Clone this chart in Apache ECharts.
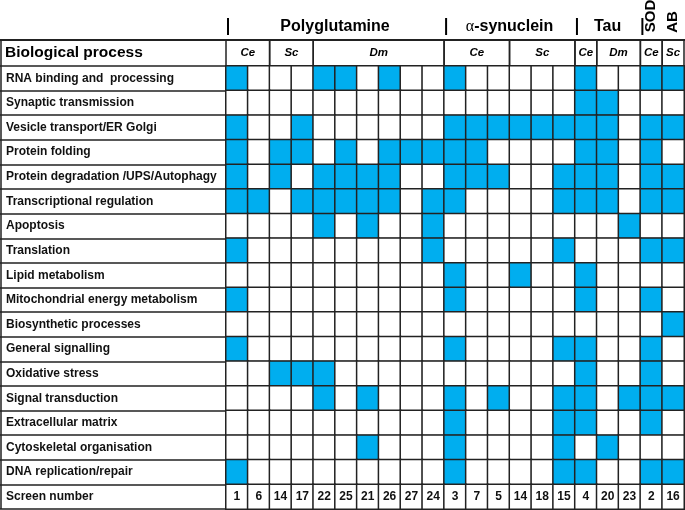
<!DOCTYPE html>
<html>
<head>
<meta charset="utf-8">
<script src="https://cdn.jsdelivr.net/npm/echarts@6/dist/echarts.min.js"></script>
<style>
html,body{margin:0;padding:0;background:#fff;}
#c{width:685px;height:510px;}
</style>
</head>
<body>
<div id="c"></div>
<script>
// ---- data ----
const screens = ['1','6','14','17','22','25','21','26','27','24','3','7','5','14','18','15','4','20','23','2','16'];
const processes = [
  'RNA binding and  processing',
  'Synaptic transmission',
  'Vesicle transport/ER Golgi',
  'Protein folding',
  'Protein degradation /UPS/Autophagy',
  'Transcriptional regulation',
  'Apoptosis',
  'Translation',
  'Lipid metabolism',
  'Mitochondrial energy metabolism',
  'Biosynthetic processes',
  'General signalling',
  'Oxidative stress',
  'Signal transduction',
  'Extracellular matrix',
  'Cytoskeletal organisation',
  'DNA replication/repair'
];
// column indices (0-based, into screens) that are marked for each process
const hits = [
  [0,4,5,7,10,16,19,20],
  [16,17],
  [0,3,10,11,12,13,14,15,16,17,19,20],
  [0,2,3,5,7,8,9,10,11,16,17,19],
  [0,2,4,5,6,7,10,11,12,15,16,17,19,20],
  [0,1,3,4,5,6,7,9,10,15,16,17,19,20],
  [4,6,9,18],
  [0,9,15,19,20],
  [10,13,16],
  [0,10,16,19],
  [20],
  [0,10,15,16,19],
  [2,3,4,16,19],
  [4,6,10,12,15,16,18,19,20],
  [10,15,16,19],
  [6,10,15,17],
  [0,10,15,16,19,20]
];
const groupNames = ['Polyglutamine','α-synuclein','Tau','SOD','AB'];
const groupFrom  = [0,10,16,19,20];
const groupTo    = [9,15,18,19,20];
const subNames = ['Ce','Sc','Dm','Ce','Sc','Ce','Dm','Ce','Sc'];
const subFrom  = [0,2,4,10,13,16,17,19,20];
const subTo    = [1,3,9,12,15,16,18,19,20];
const headerLabel = 'Biological process';
const screenLabel = 'Screen number';

// ---- build ----
const FONT = "'Liberation Sans', Arial, Helvetica, sans-serif";
const LINE = '#222';
const BLUE = '#00AEEF';
const yCats = processes.concat([screenLabel]);
const SCREEN_ROW = processes.length;
const data = [];
processes.forEach((p, r) => {
  for (let c = 0; c < screens.length; c++) {
    data.push([c, r, hits[r].indexOf(c) >= 0 ? 1 : 0]);
  }
});
for (let c = 0; c < screens.length; c++) data.push([c, SCREEN_ROW, 0]);

const chart = echarts.init(document.getElementById('c'), null, {renderer: 'canvas'});
const option = {
  animation: false,
  backgroundColor: '#fff',
  grid: {left: 226, right: 1, top: 66, bottom: 1},
  xAxis: {
    type: 'category',
    data: screens.map((s, i) => 'c' + i),
    show: false
  },
  yAxis: {
    type: 'category',
    data: yCats,
    inverse: true,
    axisLine: {show: true, lineStyle: {color: LINE, width: 1.5}},
    axisTick: {show: true, length: 226, lineStyle: {color: LINE, width: 1.5}},
    splitLine: {show: false},
    axisLabel: {
      align: 'left', margin: 220, color: '#111', fontWeight: 'bold',
      fontSize: 12, fontFamily: FONT
    }
  },
  visualMap: {
    type: 'piecewise', show: false, dimension: 2,
    pieces: [{value: 0, color: '#ffffff'}, {value: 1, color: BLUE}]
  },
  series: [{
    type: 'heatmap',
    data: data,
    itemStyle: {borderColor: LINE, borderWidth: 1.5},
    emphasis: {disabled: true},
    label: {
      show: true,
      color: '#111', fontWeight: 'bold', fontSize: 12, fontFamily: FONT,
      formatter: p => p.value[1] === SCREEN_ROW ? screens[p.value[0]] : ''
    }
  }]
};
chart.setOption(option);

// ---- header (positions from the chart's own axes) ----
const cx = i => chart.convertToPixel({xAxisIndex: 0}, i);
const cy = j => chart.convertToPixel({yAxisIndex: 0}, j);
const w = cx(1) - cx(0);
const h = cy(1) - cy(0);
const bL = i => cx(i) - w / 2;
const bR = i => cx(i) + w / 2;
const gridTop = cy(0) - h / 2;
const gridBottom = cy(SCREEN_ROW) + h / 2;
const headTop = gridTop - 26;
const g = [];
// top rule
g.push({type: 'line', shape: {x1: 0, y1: headTop, x2: 685, y2: headTop}, style: {stroke: LINE, lineWidth: 2}});
// left border
g.push({type: 'line', shape: {x1: 1, y1: headTop, x2: 1, y2: gridBottom}, style: {stroke: LINE, lineWidth: 1.5}});
// header row label
g.push({type: 'text', x: 5, y: headTop + 13, style: {text: headerLabel, font: 'bold 15.5px ' + FONT, fill: '#000', textVerticalAlign: 'middle', textAlign: 'left'}});
// subgroup separators and labels
subNames.forEach((n, k) => {
  const x0 = bL(subFrom[k]), x1 = bR(subTo[k]);
  g.push({type: 'line', shape: {x1: x0, y1: headTop, x2: x0, y2: gridTop}, style: {stroke: LINE, lineWidth: 1.5}});
  g.push({type: 'line', shape: {x1: x1, y1: headTop, x2: x1, y2: gridTop}, style: {stroke: LINE, lineWidth: 1.5}});
  g.push({type: 'text', x: (x0 + x1) / 2, y: headTop + 13, style: {text: n, font: 'italic bold 11.5px ' + FONT, fill: '#000', textAlign: 'center', textVerticalAlign: 'middle'}});
});
// group labels
groupNames.forEach((n, k) => {
  const x0 = bL(groupFrom[k]), x1 = bR(groupTo[k]);
  const mid = (x0 + x1) / 2;
  if (k < 4) {
    g.push({type: 'line', shape: {x1: x0 + 2, y1: headTop - 22, x2: x0 + 2, y2: headTop - 5}, style: {stroke: '#000', lineWidth: 2}});
  }
  if (n === 'SOD' || n === 'AB') {
    const yc = n === 'SOD' ? headTop - 24 : headTop - 18;
    g.push({type: 'text', x: mid, y: yc, rotation: Math.PI / 2, style: {text: n, font: 'bold 15px ' + FONT, fill: '#000', textAlign: 'center', textVerticalAlign: 'middle'}});
  } else if (n.charAt(0) === 'α') {
    g.push({type: 'text', x: mid, y: headTop - 13, style: {
      text: '{a|α}{b|' + n.slice(1) + '}',
      rich: {a: {font: '16px "Liberation Serif", "Times New Roman", serif', fill: '#000'},
             b: {font: 'bold 16px ' + FONT, fill: '#000'}},
      textAlign: 'center', textVerticalAlign: 'middle'}});
  } else {
    g.push({type: 'text', x: mid, y: headTop - 13, style: {text: n, font: 'bold 16px ' + FONT, fill: '#000', textAlign: 'center', textVerticalAlign: 'middle'}});
  }
});
chart.setOption({graphic: {elements: g}});
</script>
</body>
</html>
